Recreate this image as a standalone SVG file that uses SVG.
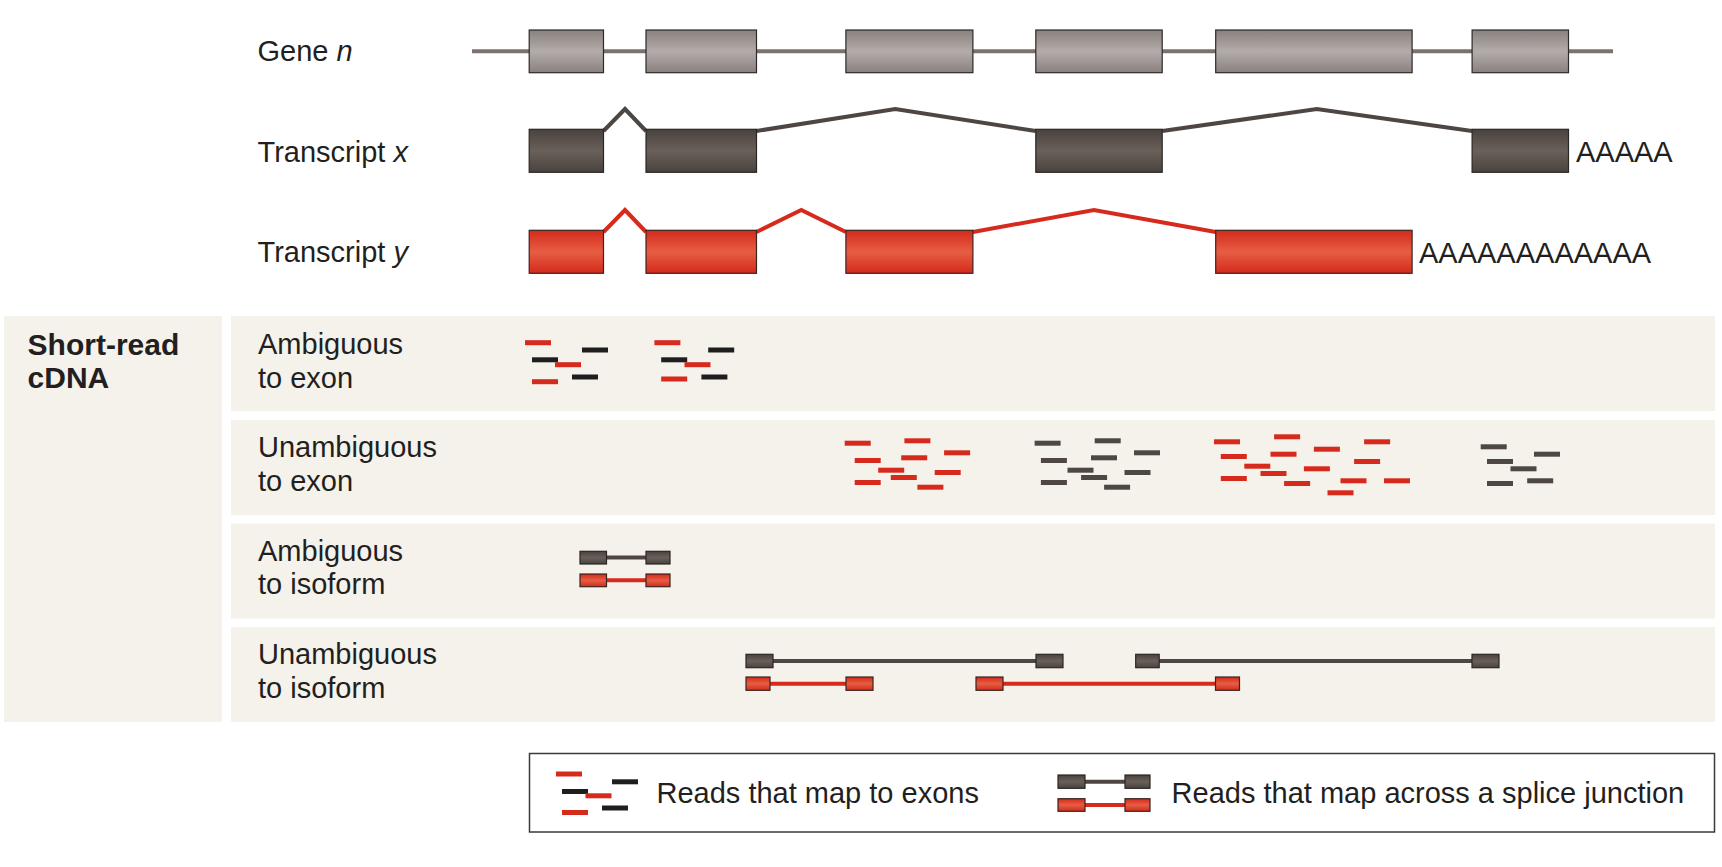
<svg xmlns="http://www.w3.org/2000/svg" xmlns:xlink="http://www.w3.org/1999/xlink" width="1722" height="867" viewBox="0 0 1722 867">
<style>
text{font-family:"Liberation Sans",Arial,sans-serif;fill:#231f20;font-size:29px}
.b{font-weight:bold;font-size:30px}
.panel{fill:#f5f2ec}
.ge{fill:url(#gGene);stroke:#2e2a28;stroke-width:1.2}
.xe{fill:url(#gDark);stroke:#2a2624;stroke-width:1.2}
.ye{fill:url(#gRed);stroke:#3a2420;stroke-width:1.2}
.gl{stroke:#7b726e;stroke-width:4;fill:none}
.xl{stroke:#4e4642;stroke-width:4;fill:none;stroke-linejoin:miter}
.yl{stroke:#d62a1c;stroke-width:4;fill:none;stroke-linejoin:miter}
.jx{stroke:#4e4642;stroke-width:4}
.jy{stroke:#d62a1c;stroke-width:4}
</style>
<defs>
<linearGradient id="gGene" x1="0" y1="0" x2="0" y2="1"><stop offset="0" stop-color="#8a817e"/><stop offset="0.5" stop-color="#b3acaa"/><stop offset="1" stop-color="#8a817e"/></linearGradient>
<linearGradient id="gDark" x1="0" y1="0" x2="0" y2="1"><stop offset="0" stop-color="#4a423e"/><stop offset="0.5" stop-color="#6a605a"/><stop offset="1" stop-color="#4a423e"/></linearGradient>
<linearGradient id="gRed" x1="0" y1="0" x2="0" y2="1"><stop offset="0" stop-color="#d42a1a"/><stop offset="0.5" stop-color="#e65e44"/><stop offset="1" stop-color="#d42a1a"/></linearGradient>
<rect id="rr" width="26" height="5" fill="#d62a1c"/>
<rect id="rk" width="26" height="5" fill="#1e1e1e"/>
<rect id="rg" width="26" height="5" fill="#4e4743"/>
</defs>
<rect width="1722" height="867" fill="#ffffff"/>

<g id="panels">
<rect class="panel" x="4" y="316" width="218" height="406"/>
<rect class="panel" x="231" y="316" width="1484" height="95"/>
<rect class="panel" x="231" y="420" width="1484" height="95"/>
<rect class="panel" x="231" y="523.5" width="1484" height="95"/>
<rect class="panel" x="231" y="627" width="1484" height="95"/>
<rect id="legend-frame" x="529.5" y="753.5" width="1185" height="78.5" fill="#ffffff" stroke="#3a3a3a" stroke-width="1.5"/>
</g>

<g id="connectors">
<line class="gl" x1="472" y1="51.3" x2="1613" y2="51.3"/>
<polyline class="xl" points="603.5,131 625,109 646,131"/>
<polyline class="xl" points="756.5,131 895.3,109 1035.8,131"/>
<polyline class="xl" points="1162.2,131 1316.8,109 1472,131"/>
<polyline class="yl" points="603.5,232 625,210 646,232"/>
<polyline class="yl" points="756.5,232 801.3,210 845.9,232"/>
<polyline class="yl" points="972.9,232 1094,210 1215.7,232"/>
<line class="jx" x1="606" y1="557.6" x2="646" y2="557.6"/>
<line class="jy" x1="606" y1="580.3" x2="646" y2="580.3"/>
<line class="jx" x1="772" y1="661" x2="1036" y2="661"/>
<line class="jx" x1="1159" y1="661" x2="1472" y2="661"/>
<line class="jy" x1="770" y1="683.7" x2="846" y2="683.7"/>
<line class="jy" x1="1003" y1="683.7" x2="1215.5" y2="683.7"/>
<line class="jx" x1="1085" y1="781.7" x2="1125" y2="781.7"/>
<line class="jy" x1="1085" y1="805" x2="1125" y2="805"/>
</g>

<g id="gene-n">
<text x="257.5" y="60.7">Gene <tspan font-style="italic">n</tspan></text>
<rect class="ge" x="529.2" y="30" width="74.3" height="42.7"/>
<rect class="ge" x="646" y="30" width="110.5" height="42.7"/>
<rect class="ge" x="845.9" y="30" width="127" height="42.7"/>
<rect class="ge" x="1035.8" y="30" width="126.4" height="42.7"/>
<rect class="ge" x="1215.7" y="30" width="196.4" height="42.7"/>
<rect class="ge" x="1472.1" y="30" width="96.4" height="42.7"/>
</g>

<g id="transcript-x">
<text x="257.5" y="161.7">Transcript <tspan font-style="italic">x</tspan></text>
<rect class="xe" x="529.2" y="129.3" width="74.3" height="43"/>
<rect class="xe" x="646" y="129.3" width="110.5" height="43"/>
<rect class="xe" x="1035.8" y="129.3" width="126.4" height="43"/>
<rect class="xe" x="1472.1" y="129.3" width="96.4" height="43"/>
<text x="1576" y="161.7">AAAAA</text>
</g>

<g id="transcript-y">
<text x="257.5" y="262.3">Transcript <tspan font-style="italic">y</tspan></text>
<rect class="ye" x="529.2" y="230.3" width="74.3" height="43"/>
<rect class="ye" x="646" y="230.3" width="110.5" height="43"/>
<rect class="ye" x="845.9" y="230.3" width="127" height="43"/>
<rect class="ye" x="1215.7" y="230.3" width="196.4" height="43"/>
<text x="1419" y="262.8">AAAAAAAAAAAA</text>
</g>

<g id="short-read-label">
<text class="b" x="27.6" y="355.3">Short-read</text>
<text class="b" x="27.6" y="388.3">cDNA</text>
</g>

<g id="ambiguous-exon">
<text x="258" y="354.3">Ambiguous</text>
<text x="258" y="388.3">to exon</text>
<use href="#rr" x="525" y="340.2"/>
<use href="#rk" x="582" y="347.5"/>
<use href="#rk" x="532" y="357.3"/>
<use href="#rr" x="555" y="362.2"/>
<use href="#rk" x="572" y="374.5"/>
<use href="#rr" x="532" y="379.2"/>
<use href="#rr" x="654.4" y="340.2"/>
<use href="#rk" x="708.2" y="347.5"/>
<use href="#rk" x="661.2" y="357.3"/>
<use href="#rr" x="684.5" y="362.2"/>
<use href="#rk" x="701.4" y="374.5"/>
<use href="#rr" x="661.2" y="376.5"/>
</g>

<g id="unambiguous-exon">
<text x="258" y="456.7">Unambiguous</text>
<text x="258" y="490.7">to exon</text>
<use href="#rr" x="844.7" y="440.7"/>
<use href="#rr" x="904.4" y="438.3"/>
<use href="#rr" x="944.1" y="450.3"/>
<use href="#rr" x="854.7" y="458"/>
<use href="#rr" x="901.2" y="455.3"/>
<use href="#rr" x="878.2" y="467.7"/>
<use href="#rr" x="934.7" y="470"/>
<use href="#rr" x="890.8" y="475"/>
<use href="#rr" x="854.7" y="480"/>
<use href="#rr" x="917.4" y="484.7"/>
<use href="#rg" x="1034.6" y="440.7"/>
<use href="#rg" x="1094.7" y="438.3"/>
<use href="#rg" x="1134" y="450.3"/>
<use href="#rg" x="1040.9" y="458"/>
<use href="#rg" x="1091" y="455.3"/>
<use href="#rg" x="1067.5" y="467.7"/>
<use href="#rg" x="1124.5" y="470"/>
<use href="#rg" x="1081.1" y="475"/>
<use href="#rg" x="1040.9" y="480"/>
<use href="#rg" x="1104.1" y="484.7"/>
<use href="#rr" x="1214" y="439.3"/>
<use href="#rr" x="1274.1" y="434.3"/>
<use href="#rr" x="1364.1" y="439.3"/>
<use href="#rr" x="1313.9" y="446.7"/>
<use href="#rr" x="1220.8" y="454"/>
<use href="#rr" x="1270.5" y="451.7"/>
<use href="#rr" x="1354.1" y="459"/>
<use href="#rr" x="1244.3" y="463.7"/>
<use href="#rr" x="1303.9" y="466.3"/>
<use href="#rr" x="1260.5" y="471"/>
<use href="#rr" x="1220.8" y="476"/>
<use href="#rr" x="1284.1" y="481"/>
<use href="#rr" x="1340.5" y="478.3"/>
<use href="#rr" x="1384" y="478.3"/>
<use href="#rr" x="1327.5" y="490.3"/>
<use href="#rg" x="1480.7" y="444.3"/>
<use href="#rg" x="1534" y="451.7"/>
<use href="#rg" x="1487" y="459"/>
<use href="#rg" x="1510.5" y="466.3"/>
<use href="#rg" x="1487" y="481"/>
<use href="#rg" x="1527.2" y="478.3"/>
</g>

<g id="ambiguous-isoform">
<text x="258" y="560.7">Ambiguous</text>
<text x="258" y="594">to isoform</text>
<rect class="xe" x="580" y="551.3" width="26.5" height="12.7"/>
<rect class="xe" x="646" y="551.3" width="24" height="12.7"/>
<rect class="ye" x="580" y="574" width="26.5" height="12.7"/>
<rect class="ye" x="646" y="574" width="24" height="12.7"/>
</g>

<g id="unambiguous-isoform">
<text x="258" y="664.3">Unambiguous</text>
<text x="258" y="697.7">to isoform</text>
<rect class="xe" x="746" y="654.3" width="27" height="13.4"/>
<rect class="xe" x="1036" y="654.3" width="27" height="13.4"/>
<rect class="xe" x="1135.7" y="654.3" width="23.5" height="13.4"/>
<rect class="xe" x="1472" y="654.3" width="27" height="13.4"/>
<rect class="ye" x="746" y="677" width="24" height="13.3"/>
<rect class="ye" x="846" y="677" width="27" height="13.3"/>
<rect class="ye" x="976" y="677" width="27" height="13.3"/>
<rect class="ye" x="1215.5" y="677" width="24" height="13.3"/>
</g>

<g id="legend">
<use href="#rr" x="556" y="771.5"/>
<use href="#rk" x="612" y="779.3"/>
<use href="#rk" x="562" y="789"/>
<use href="#rr" x="585.5" y="793.3"/>
<use href="#rk" x="602" y="805.5"/>
<use href="#rr" x="562" y="810"/>
<text x="656.5" y="803.3">Reads that map to exons</text>
<rect class="xe" x="1058" y="775" width="27" height="13.3"/>
<rect class="xe" x="1125" y="775" width="25" height="13.3"/>
<rect class="ye" x="1058" y="798.7" width="27" height="12.6"/>
<rect class="ye" x="1125" y="798.7" width="25" height="12.6"/>
<text x="1171.6" y="803.3">Reads that map across a splice junction</text>
</g>
</svg>
